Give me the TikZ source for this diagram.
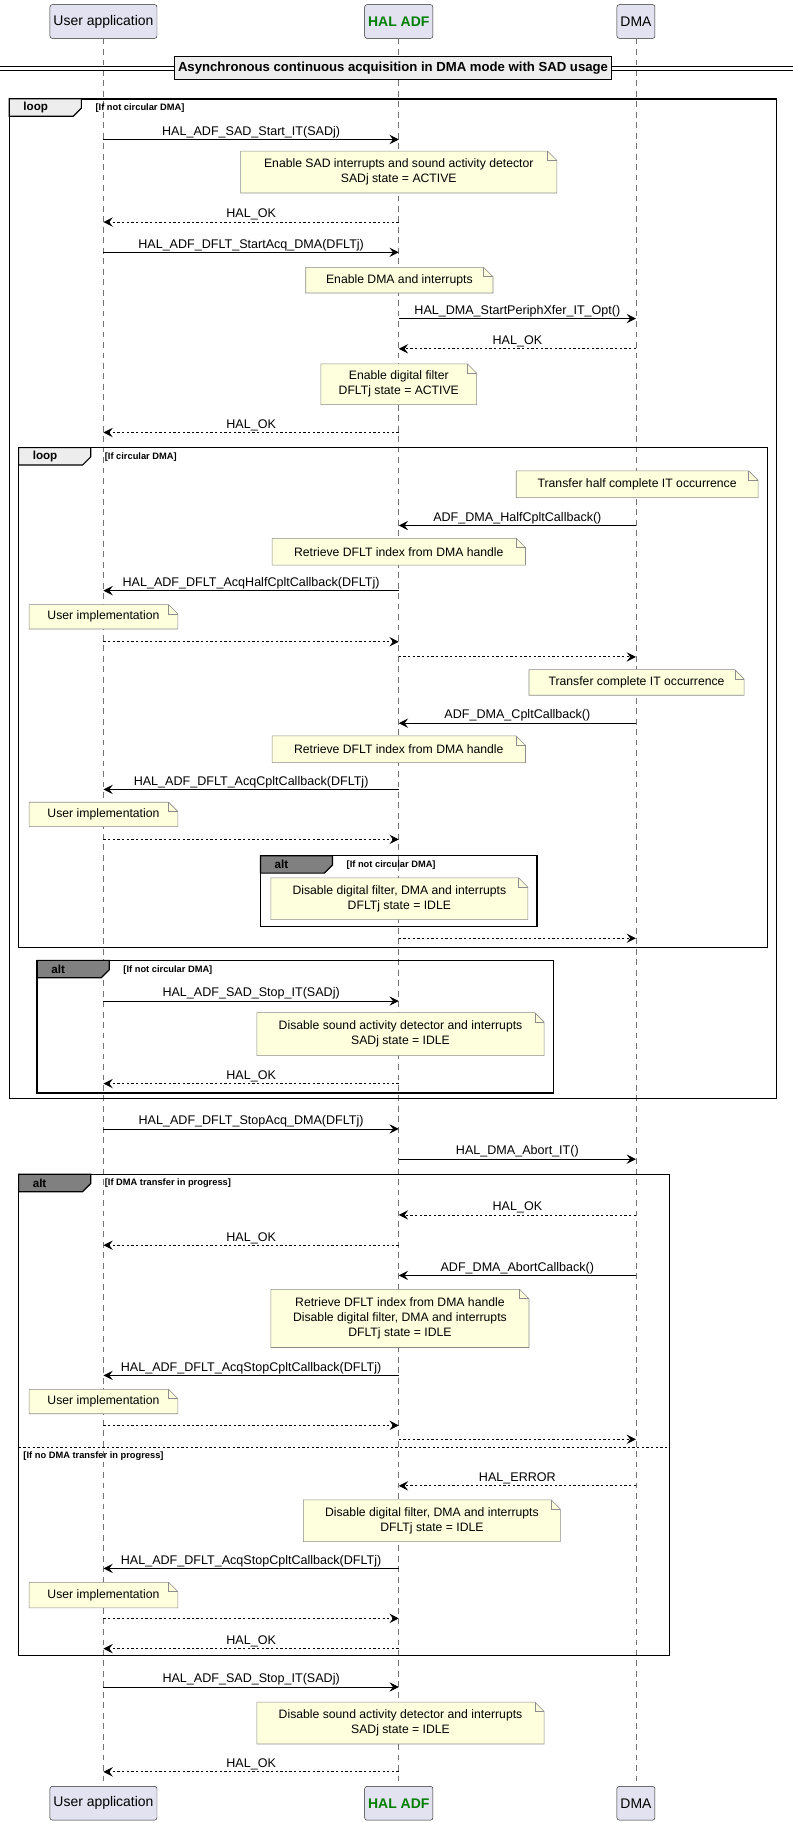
\documentclass[tikz,border=0pt]{standalone}
\usepackage{fontspec}
\setmainfont{Liberation Sans}
\usetikzlibrary{arrows.meta}
\definecolor{partfill}{HTML}{E2E2F0}
\definecolor{notefill}{HTML}{FEFFDD}
\definecolor{hal}{HTML}{008000}
\tikzset{
 lbl/.style={font=\fontsize{10.8}{12}\selectfont,inner sep=1pt,above},
 ntext/.style={font=\fontsize{10.5}{13}\selectfont,align=center,inner sep=0pt},
 part/.style={draw=black!85,fill=partfill,rounded corners=2pt,minimum height=29pt,inner sep=3pt,font=\fontsize{12}{13}\selectfont},
 life/.style={draw=black!55,dash pattern=on 5pt off 4pt,line width=0.5pt},
 sol/.style={-{Stealth[length=8pt,width=8pt,inset=3pt]},line width=0.7pt},
 das/.style={-{Stealth[length=8pt,width=8pt,inset=3pt]},line width=0.7pt,dash pattern=on 2pt off 2pt},
 notestyle/.style={draw=black!45,fill=notefill,line width=0.5pt},
 grp/.style={draw=black,line width=1.3pt},
 glbl/.style={font=\bfseries\fontsize{10}{11}\selectfont,inner sep=0pt,anchor=west},
 gcond/.style={font=\bfseries\fontsize{8}{9}\selectfont,inner sep=0pt,anchor=west},
}
\def\xU{89}\def\xH{343}\def\xD{547}
\newcommand\msg[6]{\coordinate (#1s) at (#2,#4);\coordinate (#1e) at (#3,#4);
 \draw[#5] (#1s) -- node[lbl]{#6} (#1e);}
\newcommand\mynote[6]{\path[notestyle] (#2,#3) -- ({#4-8},#3) -- (#4,{#3+8}) -- (#4,#5) -- (#2,#5) -- cycle;
 \draw[black!45,line width=0.5pt] ({#4-8},#3) -- ({#4-8},{#3+8}) -- (#4,{#3+8});
 \node[ntext] (#1) at ({(#2+#4)/2},{(#3+#5)/2}) {#6};}
\newcommand\grpbox[8]{% name x1 y1 x2 y2 label cond tabfill
 \draw[grp] (#2,#3) rectangle (#4,#5);
 \path[draw=black,line width=1pt,fill=#8] (#2,#3) -- ({#2+62},#3) -- ({#2+62},{#3+8}) -- ({#2+55},{#3+15}) -- (#2,{#3+15}) -- cycle;
 \node[glbl] (#1l) at ({#2+12},{#3+7.5}) {#6};
 \node[gcond] (#1c) at ({#2+74},{#3+8}) {#7};}
\begin{document}
\begin{tikzpicture}[x=1pt,y=-1pt]
\useasboundingbox (0,0) rectangle (682,1568);
% participants
\node[part] (ua) at (\xU,18.5) {User application};
\node[part,font=\bfseries\fontsize{12}{13}\selectfont,text=hal] (ha) at (\xH,18.5) {HAL ADF};
\node[part] (dm) at (\xD,18.5) {DMA};
\node[part] (ua2) at (\xU,1551) {User application};
\node[part,font=\bfseries\fontsize{12}{13}\selectfont,text=hal] (ha2) at (\xH,1551) {HAL ADF};
\node[part] (dm2) at (\xD,1551) {DMA};
\draw[life] (ua) -- (ua2); \draw[life] (ha) -- (ha2); \draw[life] (dm) -- (dm2);
% divider
\draw[line width=0.8pt] (0,57) -- (682,57); \draw[line width=0.8pt] (0,60.5) -- (682,60.5);
\node[draw=black,line width=1.3pt,fill=black!7,inner sep=3pt,font=\bfseries\fontsize{11.3}{12}\selectfont,minimum height=20pt] (div) at (338,58.5) {Asynchronous continuous acquisition in DMA mode with SAD usage};
% loop 1
\grpbox{g1}{8}{85}{668}{945}{loop}{[If not circular DMA]}{black!7}
\msg{m1}{\xU}{\xH}{120}{sol}{HAL\_ADF\_SAD\_Start\_IT(SADj)}
\mynote{n1}{207}{130}{479}{166}{Enable SAD interrupts and sound activity detector\\SADj state = ACTIVE}
\msg{m2}{\xH}{\xU}{191}{das}{HAL\_OK}
\msg{m3}{\xU}{\xH}{217}{sol}{HAL\_ADF\_DFLT\_StartAcq\_DMA(DFLTj)}
\mynote{n2}{263}{230}{424}{252}{Enable DMA and interrupts}
\msg{m4}{\xH}{\xD}{274}{sol}{HAL\_DMA\_StartPeriphXfer\_IT\_Opt()}
\msg{m5}{\xD}{\xH}{300}{das}{HAL\_OK}
\mynote{n3}{276}{313}{410}{348}{Enable digital filter\\DFLTj state = ACTIVE}
\msg{m6}{\xH}{\xU}{372}{das}{HAL\_OK}
% loop 2
\grpbox{g2}{16}{385}{660}{815}{loop}{[If circular DMA]}{black!7}
\mynote{n4}{444}{405}{652}{428}{Transfer half complete IT occurrence}
\msg{m7}{\xD}{\xH}{452}{sol}{ADF\_DMA\_HalfCpltCallback()}
\mynote{n5}{234}{463}{452}{486}{Retrieve DFLT index from DMA handle}
\msg{m8}{\xH}{\xU}{508}{sol}{HAL\_ADF\_DFLT\_AcqHalfCpltCallback(DFLTj)}
\mynote{n6}{25}{520}{153}{541}{User implementation}
\msg{m9}{\xU}{\xH}{552}{das}{}
\msg{m10}{\xH}{\xD}{565}{das}{}
\mynote{n7}{455}{576}{640}{598}{Transfer complete IT occurrence}
\msg{m11}{\xD}{\xH}{622}{sol}{ADF\_DMA\_CpltCallback()}
\mynote{n8}{234}{633}{452}{656}{Retrieve DFLT index from DMA handle}
\msg{m12}{\xH}{\xU}{679}{sol}{HAL\_ADF\_DFLT\_AcqCpltCallback(DFLTj)}
\mynote{n9}{25}{690}{153}{711}{User implementation}
\msg{m13}{\xU}{\xH}{722}{das}{}
\grpbox{g3}{224}{736}{462}{797}{alt}{[If not circular DMA]}{black!50}
\mynote{n10}{233}{755}{454}{791}{Disable digital filter, DMA and interrupts\\DFLTj state = IDLE}
\msg{m14}{\xH}{\xD}{807}{das}{}
% alt SAD stop
\grpbox{g4}{32}{826}{476}{940}{alt}{[If not circular DMA]}{black!50}
\msg{m15}{\xU}{\xH}{861}{sol}{HAL\_ADF\_SAD\_Stop\_IT(SADj)}
\mynote{n11}{221}{871}{468}{908}{Disable sound activity detector and interrupts\\SADj state = IDLE}
\msg{m16}{\xH}{\xU}{932}{das}{HAL\_OK}
% after loop
\msg{m17}{\xU}{\xH}{971}{sol}{HAL\_ADF\_DFLT\_StopAcq\_DMA(DFLTj)}
\msg{m18}{\xH}{\xD}{997}{sol}{HAL\_DMA\_Abort\_IT()}
\grpbox{g5}{16}{1010}{576}{1424}{alt}{[If DMA transfer in progress]}{black!50}
\msg{m19}{\xD}{\xH}{1045}{das}{HAL\_OK}
\msg{m20}{\xH}{\xU}{1071}{das}{HAL\_OK}
\msg{m21}{\xD}{\xH}{1097}{sol}{ADF\_DMA\_AbortCallback()}
\mynote{n12}{233}{1109}{455}{1159}{Retrieve DFLT index from DMA handle\\Disable digital filter, DMA and interrupts\\DFLTj state = IDLE}
\msg{m22}{\xH}{\xU}{1183}{sol}{HAL\_ADF\_DFLT\_AcqStopCpltCallback(DFLTj)}
\mynote{n13}{25}{1195}{153}{1216}{User implementation}
\msg{m23}{\xU}{\xH}{1226}{das}{}
\msg{m24}{\xH}{\xD}{1238}{das}{}
\draw[line width=0.6pt,dash pattern=on 2pt off 2pt] (16,1245) -- (576,1245);
\node[gcond] (g5c2) at (20,1252) {[If no DMA transfer in progress]};
\msg{m25}{\xD}{\xH}{1278}{das}{HAL\_ERROR}
\mynote{n14}{261}{1290}{482}{1326}{Disable digital filter, DMA and interrupts\\DFLTj state = IDLE}
\msg{m26}{\xH}{\xU}{1349}{sol}{HAL\_ADF\_DFLT\_AcqStopCpltCallback(DFLTj)}
\mynote{n15}{25}{1361}{153}{1383}{User implementation}
\msg{m27}{\xU}{\xH}{1392}{das}{}
\msg{m28}{\xH}{\xU}{1418}{das}{HAL\_OK}
% final
\msg{m29}{\xU}{\xH}{1451}{sol}{HAL\_ADF\_SAD\_Stop\_IT(SADj)}
\mynote{n16}{221}{1464}{468}{1500}{Disable sound activity detector and interrupts\\SADj state = IDLE}
\msg{m30}{\xH}{\xU}{1524}{das}{HAL\_OK}
\end{tikzpicture}
\end{document}
